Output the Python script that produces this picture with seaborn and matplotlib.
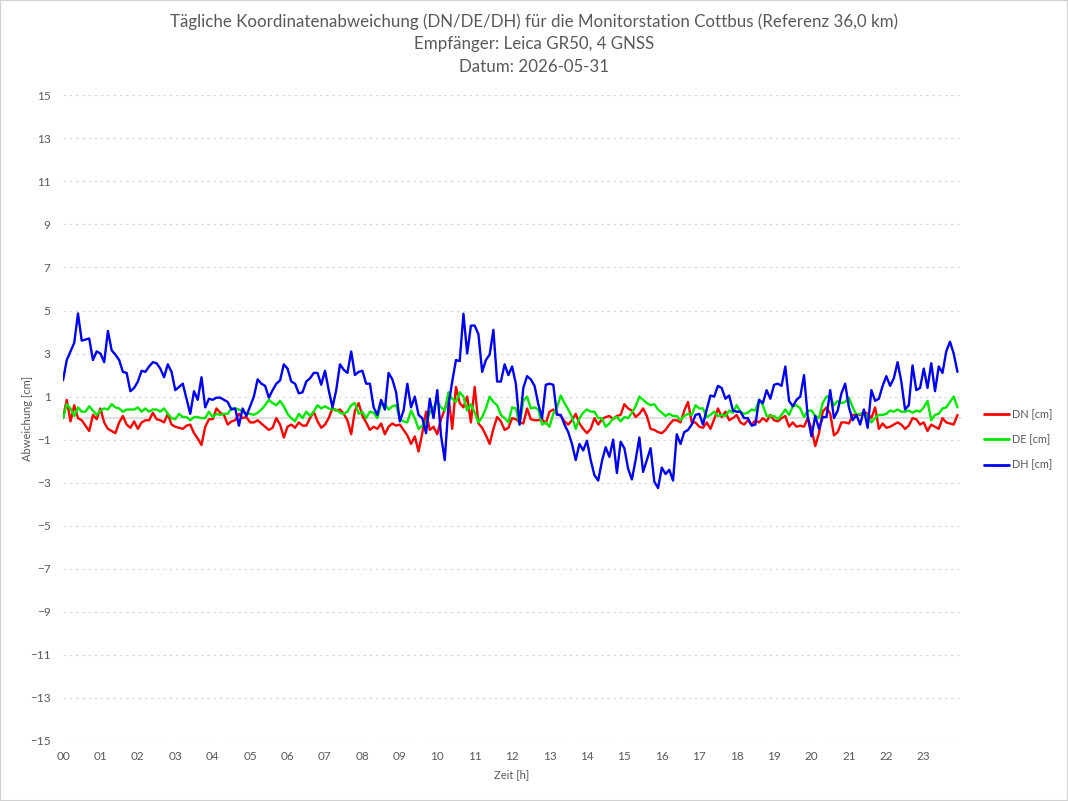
import numpy as np
import pandas as pd
import matplotlib
matplotlib.use('Agg')
import matplotlib.pyplot as plt
import seaborn as sns

# Werte alle 6 Minuten (10 pro Stunde)
DN = [
    0.0, 0.85, -0.15, 0.6, 0.0, -0.1, -0.35, -0.6, 0.15, -0.05,
    0.45, -0.2, -0.5, -0.6, -0.7, -0.2, 0.1, -0.3, -0.45, -0.15,
    -0.5, -0.2, -0.1, -0.1, 0.25, -0.05, -0.1, -0.2, 0.2, -0.3,
    -0.4, -0.45, -0.5, -0.35, -0.3, -0.7, -0.95, -1.25, -0.4, -0.05,
    -0.05, 0.45, 0.25, 0.15, -0.3, -0.15, -0.1, 0.2, 0.0, 0.05,
    -0.2, -0.2, -0.1, -0.25, -0.4, -0.55, -0.45, 0.0, -0.3, -0.9,
    -0.4, -0.3, -0.45, -0.2, -0.35, -0.35, 0.0, 0.3, -0.15, -0.45,
    -0.3, 0.0, 0.45, 0.35, 0.4, 0.2, -0.1, -0.75, 0.35, 0.7,
    0.1, -0.2, -0.55, -0.4, -0.5, -0.25, -0.75, -0.4, -0.25, -0.35,
    -0.3, -0.55, -0.8, -1.2, -0.85, -1.55, -0.7, 0.3, -0.55, -0.4,
    -0.75, -0.05, 0.4, 1.0, -0.5, 1.45, 0.7, 0.5, 1.0, -0.2,
    1.45, -0.25, -0.45, -0.8, -1.2, -0.5, 0.05, -0.15, -0.55, -0.45,
    0.0, -0.05, -0.2, -0.25, 0.45, -0.05, -0.1, -0.1, -0.05, -0.25,
    0.3, 0.4, 0.2, 0.1, -0.15, -0.3, -0.1, 0.2, -0.25, -0.5,
    -0.7, -0.5, 0.0, -0.3, -0.05, 0.05, 0.1, -0.05, 0.1, 0.15,
    0.65, 0.45, 0.35, 0.05, 0.2, 0.45, 0.1, -0.5, -0.55, -0.65,
    -0.7, -0.55, -0.3, -0.1, -0.1, -0.2, 0.35, 0.75, -0.2, -0.2,
    -0.4, -0.45, -0.2, -0.5, -0.05, 0.45, 0.05, 0.3, -0.1, 0.0,
    0.15, -0.2, -0.3, -0.1, -0.3, -0.1, -0.2, 0.0, -0.15, 0.15,
    -0.1, -0.15, 0.0, 0.1, -0.4, -0.2, -0.4, -0.35, -0.4, 0.0,
    -0.5, -1.3, -0.7, 0.3, 0.5, 0.2, -0.8, -0.65, -0.2, -0.2,
    -0.25, 0.15, 0.15, 0.15, 0.3, 0.2, 0.0, 0.5, -0.5, -0.25,
    -0.45, -0.4, -0.3, -0.2, -0.3, -0.5, -0.35, 0.0, -0.05, -0.3,
    -0.2, -0.6, -0.3, -0.4, -0.5, 0.0, -0.2, -0.25, -0.3, 0.15,
]

DE = [
    0.0, 0.65, 0.45, 0.1, 0.5, 0.3, 0.3, 0.55, 0.35, 0.15,
    0.35, 0.45, 0.4, 0.65, 0.5, 0.45, 0.3, 0.4, 0.4, 0.4,
    0.5, 0.3, 0.45, 0.3, 0.4, 0.4, 0.3, 0.45, 0.2, 0.0,
    -0.05, 0.2, 0.05, 0.05, -0.1, 0.05, 0.05, 0.0, 0.0, 0.3,
    0.05, 0.2, 0.15, 0.2, 0.2, 0.45, 0.45, 0.4, 0.3, 0.2,
    0.2, 0.15, 0.25, 0.4, 0.6, 0.85, 0.7, 0.6, 0.8, 0.55,
    0.2, 0.0, -0.15, 0.2, 0.0, 0.3, 0.1, 0.3, 0.6, 0.45,
    0.55, 0.45, 0.4, 0.4, 0.25, 0.2, 0.3, 0.6, 0.7, 0.2,
    0.3, 0.0, 0.3, 0.25, 0.0, 0.7, 0.65, 0.4, 0.55, 0.6,
    -0.05, -0.15, -0.2, 0.35, 0.0, -0.5, -0.35, -0.2, 0.25, 0.5,
    0.75, 0.5, 0.35, 1.2, 0.9, 0.75, 1.2, 1.0, 0.35, 0.65,
    0.25, -0.2, 0.05, 0.45, 1.0, 0.75, 0.6, 0.15, 0.0, -0.2,
    0.5, 0.45, -0.3, 0.8, 1.0, 0.45, 0.5, 0.4, -0.3, -0.2,
    -0.4, 0.2, 0.5, 1.05, 0.7, 0.4, 0.05, -0.5, 0.0, 0.25,
    0.4, 0.3, 0.3, 0.0, 0.0, -0.4, -0.25, 0.0, 0.05, -0.15,
    0.05, 0.0, 0.25, 0.55, 1.0, 0.85, 0.7, 0.6, 0.65, 0.4,
    0.25, 0.1, 0.2, 0.1, 0.1, -0.1, 0.1, 0.2, 0.15, 0.6,
    0.45, 0.45, 0.05, 0.15, 0.3, 0.1, 0.15, 0.1, 0.35, 0.25,
    0.6, 0.3, 0.2, 0.25, 0.4, 0.35, 0.85, 0.6, 0.1, 0.1,
    0.1, -0.05, 0.15, 0.4, 0.15, 0.55, 0.6, 0.45, 0.05, 0.35,
    0.35, 0.1, 0.0, 0.7, 1.0, 1.0, 0.6, 0.8, 0.7, 0.75,
    0.95, 0.5, 0.15, 0.2, 0.25, 0.1, -0.2, 0.0, 0.15, 0.15,
    0.2, 0.35, 0.3, 0.4, 0.3, 0.3, 0.35, 0.25, 0.35, 0.3,
    0.5, 0.8, -0.1, 0.15, 0.2, 0.45, 0.5, 0.75, 1.0, 0.5,
]

DH = [
    1.76, 2.7, 3.1, 3.5, 4.86, 3.6, 3.65, 3.7, 2.7, 3.1,
    3.0, 2.6, 4.05, 3.15, 2.95, 2.7, 2.15, 2.1, 1.25, 1.4,
    1.7, 2.2, 2.15, 2.4, 2.6, 2.55, 2.3, 1.9, 2.5, 2.15,
    1.3, 1.45, 1.6, 0.9, 0.2, 1.25, 0.85, 1.9, 0.5, 0.9,
    0.85, 0.95, 0.95, 0.85, 0.75, 0.4, 0.45, -0.35, 0.45, 0.1,
    0.55, 1.0, 1.8, 1.6, 1.5, 0.95, 1.3, 1.6, 1.75, 2.5,
    2.3, 1.7, 1.6, 1.15, 1.2, 1.7, 1.85, 2.1, 2.1, 1.55,
    2.2, 1.3, 0.5, 1.3, 2.5, 2.25, 2.1, 3.1, 2.0, 2.15,
    2.2, 1.6, 1.6, 0.5, 0.15, 0.85, 0.4, 2.1, 1.8, 1.2,
    -0.15, 0.35, 1.6, 0.5, 1.0, 0.15, 0.0, -0.7, 0.9, 0.0,
    1.3, -0.8, -1.95, 0.6, 1.7, 2.7, 2.65, 4.85, 3.0, 4.3,
    4.3, 3.9, 2.15, 2.7, 2.95, 4.1, 1.7, 1.7, 2.5, 2.0,
    2.4, 1.6, -0.3, 1.4, 1.95, 1.8, 1.5, 0.65, 0.0, 1.55,
    1.6, 1.55, 0.15, 0.15, -0.3, -0.65, -1.2, -1.95, -1.2, -1.5,
    -1.05, -1.95, -2.65, -2.9, -2.0, -1.35, -1.8, -1.0, -2.55, -1.1,
    -1.4, -2.35, -2.85, -1.95, -0.9, -2.5, -1.95, -1.4, -2.95, -3.25,
    -2.3, -2.6, -2.4, -2.9, -0.75, -1.2, -0.65, -0.55, -0.3, 0.15,
    0.2, -0.3, 0.4, 1.05, 1.0, 1.5, 1.4, 0.9, 1.05, 0.35,
    0.3, 0.3, 0.0, 0.0, -0.35, -0.3, 0.85, 0.7, 1.3, 0.9,
    1.55, 1.6, 1.5, 2.4, 0.8, 0.55, 0.85, 1.0, 2.0, 0.05,
    -0.85, 0.1, -0.5, 0.05, 0.05, 1.3, 0.0, 0.35, 1.15, 1.6,
    0.5, -0.1, 0.15, -0.3, 0.4, -0.45, 1.3, 0.8, 0.9, 1.5,
    1.95, 1.5, 1.85, 2.6, 1.7, 0.4, 0.6, 2.45, 1.3, 1.4,
    2.3, 1.4, 2.55, 1.25, 2.4, 2.1, 3.1, 3.55, 3.0, 2.15,
]

SERIES = ['DN [cm]', 'DE [cm]', 'DH [cm]']
COLORS = ['#ff0000', '#00e600', '#0000f0']
HOURS = [f'{h:02d}' for h in range(24)]
Y_TICKS = list(range(-15, 16, 2))
TITLE = ['Tägliche Koordinatenabweichung (DN/DE/DH) für die Monitorstation Cottbus (Referenz 36,0 km)',
         'Empfänger: Leica GR50, 4 GNSS',
         'Datum: 2026-05-31']

GRAY = '#595959'

sns.set_theme(style='white')
plt.rcParams['font.family'] = ['Lato', 'DejaVu Sans']

t = np.arange(len(DN)) / 10.0
df = pd.concat([
    pd.DataFrame({'Zeit': t, 'Wert': vals, 'Reihe': name})
    for name, vals in zip(SERIES, [DN, DE, DH])
])

fig = plt.figure(figsize=(10.68, 8.01), dpi=100)
ax = fig.add_axes([0.059, 0.075, 0.841, 0.806])

ax.axhline(0, color='#d9d9d9', lw=1.2, zorder=1)
sns.lineplot(data=df, x='Zeit', y='Wert', hue='Reihe', palette=COLORS,
             linewidth=1.7, ax=ax, legend=False, zorder=3)

ax.set_xlim(0, 24)
ax.set_ylim(-15, 15)
ax.set_xticks(range(24))
ax.set_xticklabels(HOURS)
ax.set_yticks(Y_TICKS)
ax.yaxis.grid(True, linestyle=(0, (2, 3)), color='#d9d9d9', lw=0.9)
ax.xaxis.grid(False)
for s in ax.spines.values():
    s.set_visible(False)
ax.tick_params(axis='both', length=0, labelsize=8.5, colors=GRAY)
ax.tick_params(axis='y', pad=9)
ax.tick_params(axis='x', pad=7)
ax.set_xlabel('')
ax.set_ylabel('')

fig.text(0.026, 0.478, 'Abweichung [cm]', rotation=90, ha='center', va='center',
         fontsize=8, color=GRAY)
fig.text(0.479, 1 - 775 / 801, 'Zeit [h]', ha='center', va='center',
         fontsize=8, color=GRAY)

for i, line in enumerate(TITLE):
    fig.text(0.5, 1 - (22 + 22.5 * i) / 801, line, ha='center', va='center',
             fontsize=12.2, color=GRAY)

handles = [plt.Line2D([], [], color=c, lw=2) for c in COLORS]
fig.legend(handles, SERIES, loc='center left', bbox_to_anchor=(0.912, 0.451),
           frameon=False, fontsize=7.8, labelcolor=GRAY, handlelength=2.3,
           handletextpad=0.3, labelspacing=1.3)

fig.add_artist(plt.Rectangle((0, 0), 1, 1, transform=fig.transFigure,
                             fill=False, ec='#d0d0d0', lw=1.5))

fig.savefig('out.png', dpi=100)
